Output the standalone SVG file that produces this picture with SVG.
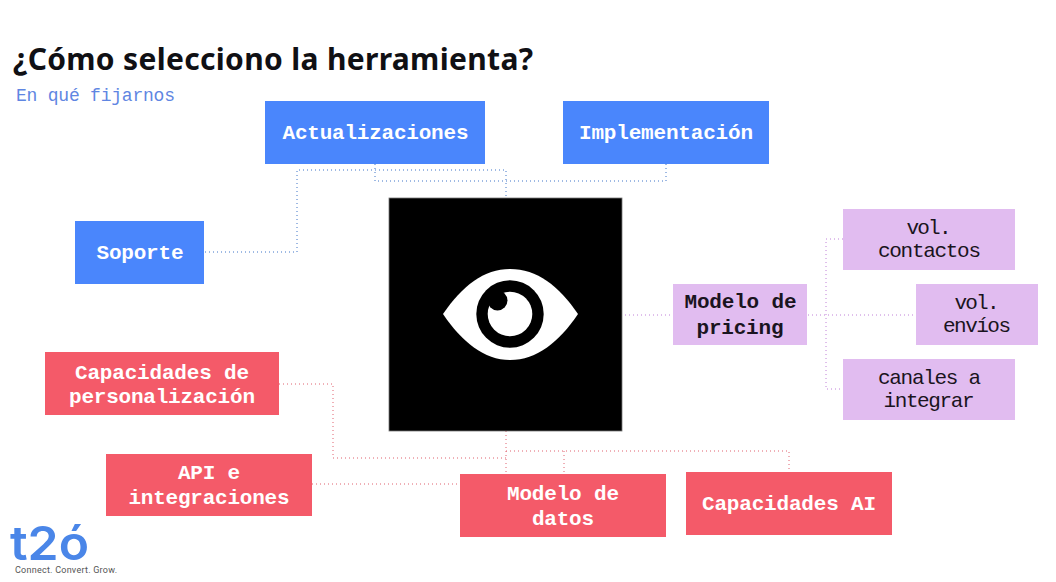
<svg xmlns="http://www.w3.org/2000/svg" width="1056" height="582" viewBox="0 0 1056 582">
<style>
.b{fill:#4a86fc}.r{fill:#f45a69}.p{fill:#e1bcf0}
.m{font-family:"Liberation Mono","DejaVu Sans Mono",monospace;text-anchor:middle;font-size:21px;transform:translateY(-0.8px)}
.w{fill:#fff;font-weight:700}
.d{fill:#1a1420}
.c{fill:none;stroke-width:1;stroke-dasharray:1 3}
.cb{stroke:#3f74c8}.cr{stroke:#e0606e}.cp{stroke:#c080d8}
</style>
<rect width="1056" height="582" fill="#fff"/>
<text id="title" x="13" y="70" font-family="'Noto Sans','Open Sans',sans-serif" font-weight="700" font-size="30" fill="#101014" textLength="520" lengthAdjust="spacing">¿Cómo selecciono la herramienta?</text>
<text id="subtitle" x="16" y="101" font-family="'Liberation Mono','DejaVu Sans Mono',monospace" font-size="18" fill="#5f86e2" textLength="159" lengthAdjust="spacing">En qué fijarnos</text>
<g id="connectors">
<path class="c cb" d="M205 252H297V170H506V198"/>
<path class="c cb" d="M375 164V181H666V164"/>
<path class="c cp" d="M625 315H673"/>
<path class="c cp" d="M808 315H916"/>
<path class="c cp" d="M843 239H826V389H843"/>
<path class="c cr" d="M279 384H333V458H506"/>
<path class="c cr" d="M506 431V473"/>
<path class="c cr" d="M506 451H789V470"/>
<path class="c cr" d="M564 451V473"/>
<path class="c cr" d="M312 484H460"/>
</g>
<g id="center">
<rect x="389" y="198" width="233" height="233" fill="#000" stroke="#777" stroke-width="0.8"/>
<path d="M443 314C462 286 484 269 510 269C537 269 559 286 578 314C559 342 537 360 510 360C484 360 462 342 443 314Z" fill="#fff"/>
<circle cx="510" cy="314" r="33.7" fill="#000"/>
<circle cx="510" cy="314" r="22.3" fill="#fff"/>
<circle cx="497.5" cy="300.5" r="10" fill="#000"/>
</g>
<g id="actualizaciones"><rect class="b" x="265" y="101" width="220" height="63"/><text class="m w" x="375.500" y="140" textLength="186" lengthAdjust="spacing">Actualizaciones</text></g>
<g id="implementacion"><rect class="b" x="563" y="101" width="206" height="63"/><text class="m w" x="666" y="140" textLength="174" lengthAdjust="spacing">Implementación</text></g>
<g id="soporte"><rect class="b" x="75" y="221" width="129" height="63"/><text class="m w" x="140" y="260" textLength="87" lengthAdjust="spacing">Soporte</text></g>
<g id="pricing"><rect class="p" x="673" y="284" width="134" height="61"/><text class="m d" font-weight="700" x="740.500" y="309" textLength="112" lengthAdjust="spacing">Modelo de</text><text class="m d" font-weight="700" x="740" y="335" textLength="87" lengthAdjust="spacing">pricing</text></g>
<g id="contactos"><rect class="p" x="843" y="209" width="172" height="61"/><text class="m d" x="929" y="235" font-size="19" textLength="45" lengthAdjust="spacing">vol.</text><text class="m d" x="929.500" y="258" font-size="19" textLength="103" lengthAdjust="spacing">contactos</text></g>
<g id="envios"><rect class="p" x="916" y="284" width="122" height="61"/><text class="m d" x="977" y="310" font-size="19" textLength="45" lengthAdjust="spacing">vol.</text><text class="m d" x="977" y="333" font-size="19" textLength="68" lengthAdjust="spacing">envíos</text></g>
<g id="canales"><rect class="p" x="843" y="359" width="172" height="61"/><text class="m d" x="929.500" y="385" font-size="19" textLength="103" lengthAdjust="spacing">canales a</text><text class="m d" x="929" y="408" font-size="19" textLength="91" lengthAdjust="spacing">integrar</text></g>
<g id="personalizacion"><rect class="r" x="45" y="352" width="234" height="63"/><text class="m w" x="162" y="380" textLength="174" lengthAdjust="spacing">Capacidades de</text><text class="m w" x="162" y="404" textLength="186" lengthAdjust="spacing">personalización</text></g>
<g id="api"><rect class="r" x="106" y="454" width="206" height="62"/><text class="m w" x="209" y="480" textLength="62" lengthAdjust="spacing">API e</text><text class="m w" x="209" y="505" textLength="161" lengthAdjust="spacing">integraciones</text></g>
<g id="datos"><rect class="r" x="460" y="474" width="206" height="63"/><text class="m w" x="563" y="501" textLength="112" lengthAdjust="spacing">Modelo de</text><text class="m w" x="563" y="526" textLength="62" lengthAdjust="spacing">datos</text></g>
<g id="ai"><rect class="r" x="686" y="472" width="206" height="63"/><text class="m w" x="789" y="511" textLength="174" lengthAdjust="spacing">Capacidades AI</text></g>
<g id="logo">
<text x="10" y="560" font-family="Inter,'Noto Sans',sans-serif" font-weight="600" font-size="47" fill="#4a86e8" textLength="79" lengthAdjust="spacingAndGlyphs">t2ó</text>
<text x="15" y="573" font-family="Roboto,'Liberation Sans',sans-serif" font-size="9" fill="#555" textLength="102" lengthAdjust="spacing">Connect. Convert. Grow.</text>
</g>
</svg>
